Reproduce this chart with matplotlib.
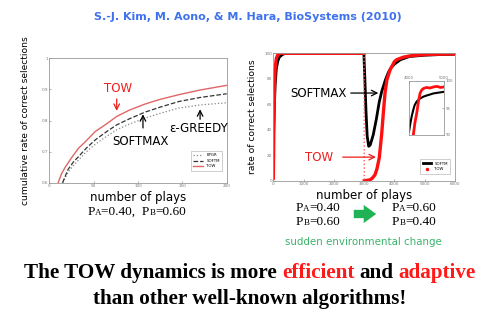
import matplotlib
matplotlib.use("Agg")
import matplotlib.pyplot as plt
from matplotlib.offsetbox import TextArea, HPacker, AnnotationBbox

# left panel: cumulative rate of correct selections (PA=0.40, PB=0.60)
tow_x = [8, 10, 14, 18, 25, 33, 40, 52, 65, 76, 90, 108, 125, 146, 170, 200]
tow_y = [0.58, 0.60, 0.63, 0.65, 0.68, 0.711, 0.73, 0.765, 0.79, 0.813, 0.833,
         0.853, 0.868, 0.883, 0.898, 0.913]
alg_x = [12, 15, 21, 27, 33, 42, 52, 64, 76, 90, 108, 125, 146, 170, 200]
softm_y = [0.58, 0.60, 0.642, 0.666, 0.684, 0.712, 0.738, 0.763, 0.786, 0.805,
           0.827, 0.843, 0.861, 0.874, 0.886]
epgr_y = [0.58, 0.60, 0.633, 0.655, 0.673, 0.70, 0.724, 0.748, 0.77, 0.788,
          0.808, 0.823, 0.84, 0.85, 0.857]

# right panel: rate of correct selections, environment switches at 3000
softm_r_x = [0, 30, 60, 100, 150, 200, 300, 400, 1000, 2000, 2990, 3020, 3060,
             3100, 3150, 3200, 3300, 3400, 3500, 3580, 3700, 3800, 3900, 4000,
             4200, 4500, 5000, 5500, 6000]
softm_r_y = [30, 55, 75, 88, 94, 97, 99, 100, 100, 100, 100, 82, 55, 35, 27, 28,
             36, 48, 62, 70, 79, 85, 89, 91.5, 95, 97.5, 98.5, 99, 99.3]
tow_pre_x = [0, 20, 40, 60, 100, 150, 200, 300, 1000, 2000, 2995]
tow_pre_y = [2, 45, 75, 88, 96, 99, 100, 100, 100, 100, 100]
tow_post_x = [3005, 3100, 3190, 3270, 3355, 3420, 3500, 3580, 3640, 3690, 3750,
              3855, 4000, 4075, 4300, 4515, 5000, 5500, 6000]
tow_post_y = [0, 0.3, 0.6, 2, 4.5, 9, 18, 37, 55, 69, 79, 87, 93.5, 95, 97,
              98, 99, 99.3, 99.5]

# inset (zoom on 4000-5000)
softm_in_x = [4000, 4040, 4076, 4120, 4160, 4220, 4300, 4410, 4500, 4600, 4700,
              4800, 4900, 5000]
softm_in_y = [90.6, 92.2, 93.4, 94.6, 95.5, 96.2, 96.7, 97.1, 97.3, 97.5, 97.7,
              97.8, 97.9, 98.0]
tow_in_x = [4124, 4170, 4220, 4270, 4315, 4360, 4410, 4500, 4600, 4700, 4800,
            4900, 5000]
tow_in_y = [90, 92.3, 94, 96.2, 97.7, 98.3, 98.6, 98.8, 98.7, 98.9, 99.0, 98.8,
            98.9]

W, H = 500, 330
fig = plt.figure(figsize=(5, 3.3), dpi=100)


def box(x0, y0, x1, y1):
    return [x0 / W, 1 - y1 / H, (x1 - x0) / W, (y1 - y0) / H]


def fpos(x, y):
    return (x / W, 1 - y / H)


def style_axes(ax):
    for s in ax.spines.values():
        s.set_color("#999999")
        s.set_linewidth(0.6)
    ax.tick_params(direction="in", length=1.5, width=0.4, labelsize=3,
                   colors="#777777", pad=1)


RED = "#ee1c1c"

# ---- left panel ----
ax1 = fig.add_axes(box(49.3, 58.3, 226.7, 182.7))
ax1.plot(alg_x, epgr_y, ":", color="#888888", lw=0.9, label="EPGR")
ax1.plot(alg_x, softm_y, "--", color="#333333", lw=0.9, label="SOFTM")
ax1.plot(tow_x, tow_y, "-", color="#e06666", lw=1.0, label="TOW")
ax1.set_xlim(0, 200)
ax1.set_ylim(0.6, 1.0)
ax1.set_xticks([0, 50, 100, 150, 200])
ax1.set_yticks([0.6, 0.7, 0.8, 0.9, 1.0])
ax1.set_yticklabels(["0.6", "0.7", "0.8", "0.9", "1"])
style_axes(ax1)
ax1.legend(loc="lower right", bbox_to_anchor=(0.985, 0.08), fontsize=2.8,
           frameon=True, handlelength=2.5, borderpad=0.6, labelspacing=0.4,
           framealpha=1, edgecolor="#aaaaaa",
           fancybox=False).get_frame().set_linewidth(0.4)
ax1.set_xlabel("number of plays", fontsize=8.5, labelpad=2)
ax1.set_ylabel("cumulative rate of correct selections", fontsize=6.6, labelpad=8)

ax1.annotate("", xy=(76, 0.822), xytext=(76, 0.878),
             arrowprops=dict(arrowstyle="->", color=RED, lw=0.9))
ax1.text(77.5, 0.904, "TOW", color=RED, fontsize=8.5, ha="center", va="center")
ax1.annotate("", xy=(105.6, 0.829), xytext=(105.6, 0.767),
             arrowprops=dict(arrowstyle="->", color="black", lw=0.9))
ax1.text(103, 0.734, "SOFTMAX", fontsize=8.5, ha="center", va="center")
ax1.annotate("", xy=(170, 0.845), xytext=(170, 0.795),
             arrowprops=dict(arrowstyle="->", color="black", lw=0.9))
ax1.text(168, 0.773, "\u03b5-GREEDY", fontsize=8.5, ha="center", va="center")

# ---- right panel ----
ax2 = fig.add_axes(box(273.3, 53.3, 455, 180.7))
ax2.plot(softm_r_x, softm_r_y, "-", color="black", lw=2.0, label="SOFTM")
ax2.plot(tow_pre_x, tow_pre_y, "-", color="#ff1010", lw=2.4)
ax2.plot(tow_post_x, tow_post_y, "-", color="#ff1010", lw=2.4)
ax2.plot([tow_pre_x[-1], tow_post_x[0]], [tow_pre_y[-1], tow_post_y[0]], ":",
         color="#ff6060", lw=1.0)
ax2.plot([], [], linestyle="none", marker=".", color="#ff1010", ms=3,
         label="TOW")
ax2.set_xlim(0, 6000)
ax2.set_ylim(0, 100)
ax2.set_xticks(range(0, 6001, 1000))
ax2.set_yticks(range(0, 101, 20))
style_axes(ax2)
ax2.legend(loc="lower right", bbox_to_anchor=(0.985, 0.04), fontsize=2.8,
           frameon=True, handlelength=2.2, borderpad=0.6, labelspacing=0.4,
           framealpha=1, edgecolor="#aaaaaa",
           fancybox=False).get_frame().set_linewidth(0.4)
ax2.set_xlabel("number of plays", fontsize=8.5, labelpad=2)
ax2.set_ylabel("rate of correct selections", fontsize=6.6, labelpad=5)

ax2.annotate("", xy=(3560, 68.8), xytext=(2467, 68.8),
             arrowprops=dict(arrowstyle="->", color="black", lw=0.9))
ax2.text(1476, 68.5, "SOFTMAX", fontsize=8.5, ha="center", va="center")
ax2.annotate("", xy=(3480, 18.5), xytext=(2200, 18.5),
             arrowprops=dict(arrowstyle="->", color=RED, lw=0.9))
ax2.text(1500, 18.5, "TOW", color=RED, fontsize=8.5, ha="center", va="center")

# inset
axi = fig.add_axes(box(409, 81, 444, 135))
axi.plot(softm_in_x, softm_in_y, "-", color="black", lw=1.5)
axi.plot(tow_in_x, tow_in_y, "-", color="#ff1010", lw=2.0)
axi.set_xlim(4000, 5000)
axi.set_ylim(90, 100)
axi.set_xticks([4000, 5000])
axi.set_yticks([90, 95, 100])
axi.xaxis.tick_top()
axi.yaxis.tick_right()
style_axes(axi)
axi.tick_params(labelsize=2.8)

# ---- texts ----
fig.text(0.496, 1 - 17 / H, "S.-J. Kim, M. Aono, & M. Hara, BioSystems (2010)",
         ha="center", va="center", fontsize=8, fontweight="bold",
         color="#3f72ee", family="DejaVu Sans")


def mixed(pieces, xy, sep=0):
    areas = [TextArea(t, textprops=p) for t, p in pieces]
    pack = HPacker(children=areas, align="baseline", pad=0, sep=sep)
    ab = AnnotationBbox(pack, fpos(*xy), xycoords="figure fraction",
                        frameon=False, box_alignment=(0.5, 0.5), pad=0)
    fig.add_artist(ab)


serif_big = dict(family="Liberation Serif", fontsize=9.5, color="black")
serif_small = dict(family="Liberation Serif", fontsize=6.5, color="black")

mixed([("P", serif_big), ("A", serif_small), ("=0.40,  P", serif_big),
       ("B", serif_small), ("=0.60", serif_big)], (137, 212))
mixed([("P", serif_big), ("A", serif_small), ("=0.40", serif_big)], (318, 208))
mixed([("P", serif_big), ("B", serif_small), ("=0.60", serif_big)], (318, 222))
mixed([("P", serif_big), ("A", serif_small), ("=0.60", serif_big)], (414, 208))
mixed([("P", serif_big), ("B", serif_small), ("=0.40", serif_big)], (414, 222))

ax2.annotate("", xy=fpos(379, 214), xytext=fpos(351, 214),
             xycoords="figure fraction", textcoords="figure fraction",
             arrowprops=dict(arrowstyle="simple,head_width=1.3,head_length=0.9,tail_width=0.6",
                             color="#1fb356", lw=0), annotation_clip=False)

fig.text(363 / W, 1 - 242 / H, "sudden environmental change", ha="center",
         va="center", fontsize=7.4, color="#3cb36a")

bold = dict(family="Liberation Serif", fontsize=15.2, fontweight="bold",
            color="black")
bold_red = dict(bold, color="#ff1a1a")
mixed([("The TOW dynamics is more", bold), ("efficient", bold_red),
       ("and", bold), ("adaptive", bold_red)], (250, 273), sep=3.8)
mixed([("than other well-known algorithms!", bold)], (250, 299))

fig.savefig("out.png", dpi=100)
